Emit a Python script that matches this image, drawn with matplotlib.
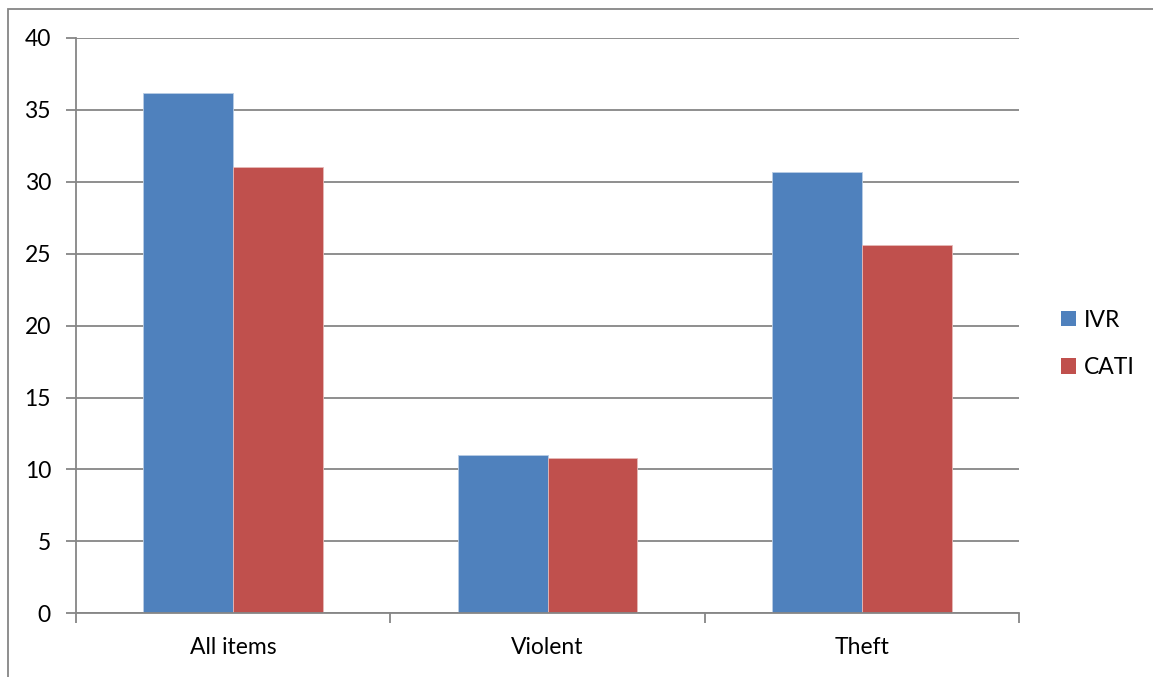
import matplotlib
matplotlib.use("Agg")
import matplotlib.pyplot as plt
from matplotlib.patches import Rectangle, Patch
import numpy as np

categories = ["All items", "Violent", "Theft"]
ivr = [36.2, 11.0, 30.7]
cati = [31.0, 10.8, 25.6]
series_names = ["IVR", "CATI"]
y_ticks = [0, 5, 10, 15, 20, 25, 30, 35, 40]

plt.rcParams["font.family"] = ["Lato", "DejaVu Sans"]
FS = 16.5

W, H = 1153, 677
fig = plt.figure(figsize=(W / 100, H / 100), dpi=100)

# chart frame, running off the right and bottom edges
fig.add_artist(Rectangle((7.5 / W, -0.05), 1.1, 1 - 8.5 / H + 0.05,
                         transform=fig.transFigure, fill=False,
                         edgecolor="#868686", linewidth=1.3))

left, right, top, bottom = 76, 1019, 38, 613.3
ax = fig.add_axes([left / W, 1 - bottom / H, (right - left) / W, (bottom - top) / H])

grid_color = "#868686"
blue = "#4F81BD"
red = "#C0504D"

x = np.arange(len(categories))
bw = 1 / 3.5
ax.bar(x - bw / 2, ivr, width=bw, color=blue, edgecolor="#B9CDE5", linewidth=0.6, zorder=3)
ax.bar(x + bw / 2, cati, width=bw, color=red, edgecolor="#E6B9B8", linewidth=0.6, zorder=3)

ax.set_xlim(-0.5, len(categories) - 0.5)
ax.set_ylim(0, 40)
ax.set_yticks(y_ticks)
ax.set_yticklabels([str(v) for v in y_ticks], fontsize=FS)
ax.yaxis.grid(True, color=grid_color, linewidth=1.3, zorder=0)
ax.set_axisbelow(True)

# category labels sit between the boundary ticks
ax.set_xticks(np.arange(len(categories) + 1) - 0.5)
ax.set_xticklabels([])
ax.set_xticks(x, minor=True)
ax.set_xticklabels(categories, minor=True, fontsize=FS)
ax.tick_params(axis="x", which="minor", length=0, pad=17)
ax.tick_params(axis="x", which="major", length=7, width=1.3, color=grid_color, direction="out")
ax.tick_params(axis="y", length=7, width=1.3, color=grid_color, direction="out", pad=11)

for s in ["top", "right"]:
    ax.spines[s].set_visible(False)
for s in ["left", "bottom"]:
    ax.spines[s].set_color(grid_color)
    ax.spines[s].set_linewidth(1.3)
    ax.spines[s].set_zorder(4)

handles = [Patch(facecolor=blue), Patch(facecolor=red)]
fig.legend(handles, series_names, loc="center left",
           bbox_to_anchor=(1040 / W, 1 - 344 / H), frameon=False,
           fontsize=FS, handlelength=0.65, handleheight=0.65,
           handletextpad=0.35, labelspacing=1.15)

fig.savefig("out.png", dpi=100)
